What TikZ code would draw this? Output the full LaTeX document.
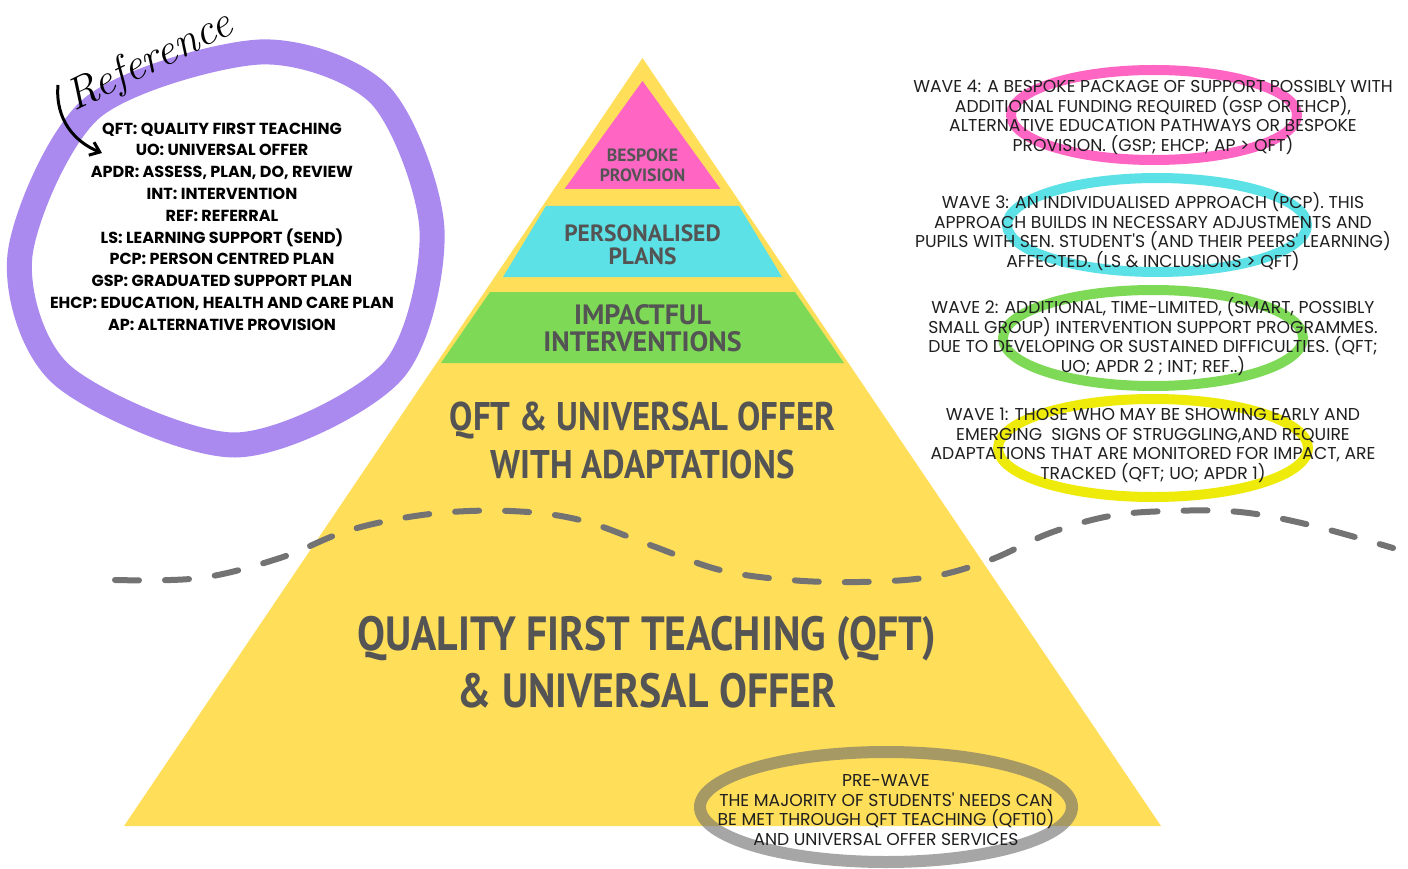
\documentclass[tikz,border=0pt]{standalone}
\usepackage{fontspec}
\newfontfamily\waveFont{Poppins}
\newfontfamily\bandFont{PT Sans}
\newfontfamily\pyramidFont[FakeStretch=0.87]{PT Sans}
\usetikzlibrary{arrows.meta}
\definecolor{pyramidYellow}{HTML}{FFDE59}
\definecolor{bespokePink}{HTML}{FF66C4}
\definecolor{plansCyan}{HTML}{5CE1E6}
\definecolor{impactGreen}{HTML}{7ED957}
\definecolor{waveYellow}{HTML}{EEEA0A}
\definecolor{legendPurple}{HTML}{AA8AEF}
\definecolor{pyramidText}{HTML}{545454}
\definecolor{dashGrey}{HTML}{737373}
\definecolor{preGrey}{HTML}{6B6B6B}
\newcommand\ringWidth{10pt}
\newcommand\drawWaveRing[4]{
	\draw[color=#1, line width=\ringWidth] (#2) ellipse [x radius=#3, y radius=#4];
}
\tikzset{
	bandlabel/.style n args={2}{text=pyramidText, align=center, font=\bandFont\bfseries\fontsize{#1}{#2}\selectfont},
	pyrlabel/.style n args={2}{text=pyramidText, align=center, font=\pyramidFont\bfseries\fontsize{#1}{#2}\selectfont},
	wavetext/.style={text=black!88, align=center, font=\waveFont\fontsize{17.2}{19.7}\selectfont},
	legendtext/.style={align=center, font=\waveFont\bfseries\fontsize{16}{21.8}\selectfont},
}

\begin{document}
\begin{tikzpicture}[x=1pt, y=-1pt]
	\useasboundingbox (0,0) rectangle (1408,869);

	% pyramid
	\fill[pyramidYellow] (642.5,58) -- (1161,826) -- (124,826) -- cycle;
	\fill[bespokePink] (642.5,81) -- (720.5,189) -- (564.5,189) -- cycle;
	\fill[plansCyan] (546,206) -- (739,206) -- (782,277) -- (503,277) -- cycle;
	\fill[impactGreen] (490,292) -- (795,292) -- (844,363) -- (441,363) -- cycle;

	\node[bandlabel={17.8}{20}] (bespoke) at (642.5,165) {BESPOKE\\PROVISION};
	\node[bandlabel={23.5}{23}] (plans) at (642.5,244.5) {PERSONALISED\\PLANS};
	\node[bandlabel={28}{27}] (impact) at (642.5,328.5) {IMPACTFUL\\INTERVENTIONS};
	\node[pyrlabel={40}{48}] (adapt) at (642.5,440) {QFT \& UNIVERSAL OFFER\\WITH ADAPTATIONS};
	\node[pyrlabel={48}{57}] (qft) at (647,662.5) {QUALITY FIRST TEACHING (QFT)\\\& UNIVERSAL OFFER};

	\draw[dashGrey, line width=6pt, line cap=round, dash pattern=on 24pt off 26pt] plot[smooth, tension=0.6] coordinates {(115,580) (200,578) (280,558) (350,530) (430,514) (510,511) (580,520) (650,545) (720,570) (790,580) (860,582) (930,577) (990,560) (1050,533) (1110,516) (1170,511) (1240,512) (1310,525) (1393,548)};

	% legend
	\draw[legendPurple, line width=25pt] plot[smooth cycle] coordinates {(432,230) (380,95) (260,52) (92,108) (20,255) (62,375) (235,445) (392,372)};
	\node[legendtext] (legend) at (222,226.5) {QFT: QUALITY FIRST TEACHING\\UO: UNIVERSAL OFFER\\APDR: ASSESS, PLAN, DO, REVIEW\\INT: INTERVENTION\\REF: REFERRAL\\LS: LEARNING SUPPORT (SEND)\\PCP: PERSON CENTRED PLAN\\GSP: GRADUATED SUPPORT PLAN\\EHCP: EDUCATION, HEALTH AND CARE PLAN\\AP: ALTERNATIVE PROVISION};
	\node[rotate=26, font=\fontsize{44}{44}\selectfont\itshape] (refLabel) at (150,62) {Reference};
	\coordinate (arrowTail) at (58,85);
	\coordinate (arrowTip) at (102,153);
	\draw[line width=3pt, -{Straight Barb[length=9pt,width=14pt]}] (arrowTail) .. controls (55,120) and (75,142) .. (arrowTip);

	% waves
	\drawWaveRing{bespokePink}{1154,115}{143}{45}
	\drawWaveRing{plansCyan}{1157,225}{150}{47}
	\drawWaveRing{impactGreen}{1153,338}{150}{48}
	\drawWaveRing{waveYellow}{1153,448}{155}{49}
	\draw[preGrey, opacity=0.6, line width=12pt] (886,807) ellipse [x radius=186, y radius=55];

	\node[wavetext] (wave4) at (1153,117.5) {WAVE 4: A BESPOKE PACKAGE OF SUPPORT POSSIBLY WITH\\ADDITIONAL FUNDING REQUIRED (GSP OR EHCP),\\ALTERNATIVE EDUCATION PATHWAYS OR BESPOKE\\PROVISION. (GSP; EHCP; AP > QFT)};
	\node[wavetext] (wave3) at (1153,231.5) {WAVE 3: AN INDIVIDUALISED APPROACH (PCP). THIS\\APPROACH BUILDS IN NECESSARY ADJUSTMENTS AND\\PUPILS WITH SEN. STUDENT'S (AND THEIR PEERS' LEARNING)\\AFFECTED. (LS \& INCLUSIONS > QFT)};
	\node[wavetext] (wave2) at (1153,336.5) {WAVE 2: ADDITIONAL, TIME-LIMITED, (SMART, POSSIBLY\\SMALL GROUP) INTERVENTION SUPPORT PROGRAMMES.\\DUE TO DEVELOPING OR SUSTAINED DIFFICULTIES. (QFT;\\UO; APDR 2 ; INT; REF..)};
	\node[wavetext] (wave1) at (1153,445.5) {WAVE 1: THOSE WHO MAY BE SHOWING EARLY AND\\EMERGING\ \ SIGNS OF STRUGGLING,AND REQUIRE\\ADAPTATIONS THAT ARE MONITORED FOR IMPACT, ARE\\TRACKED (QFT; UO; APDR 1)};
	\node[wavetext] (prewave) at (886,810) {PRE-WAVE\\THE MAJORITY OF STUDENTS' NEEDS CAN\\BE MET THROUGH QFT TEACHING (QFT10)\\AND UNIVERSAL OFFER SERVICES};
\end{tikzpicture}
\end{document}
